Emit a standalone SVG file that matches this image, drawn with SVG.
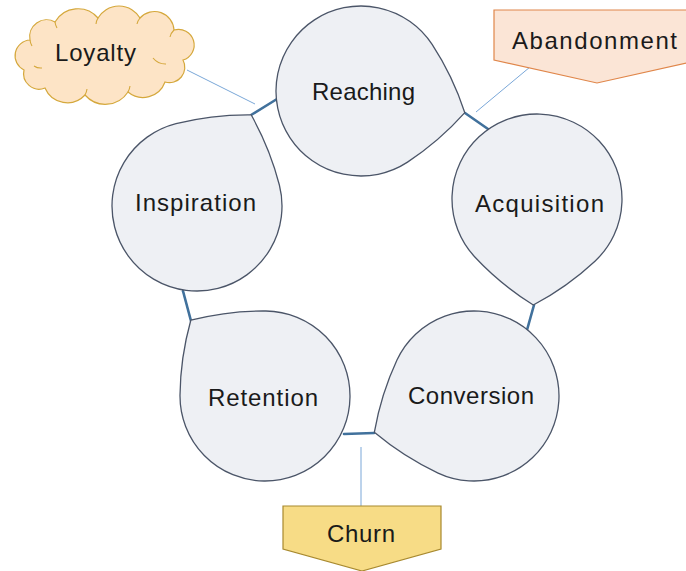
<svg xmlns="http://www.w3.org/2000/svg" width="686" height="571" viewBox="0 0 686 571">
<defs>
<style>
.drop{fill:#eef0f4;stroke:#4b5568;stroke-width:1.3}
.lbl{font-family:"Liberation Sans",Arial,sans-serif;font-size:24px;fill:#1a1a1a;text-anchor:middle}
.link{stroke:#41719c;stroke-width:2.6;fill:none;stroke-linecap:round}
.thin{stroke:#7aa7d8;stroke-width:1;fill:none}
</style>
<path id="tear" d="M -85,0 A 85 85 0 0 1 0,-85 Q 37.5,-85 75,-75 Q 85,-37.5 85,0 A 85 85 0 0 1 0,85 A 85 85 0 0 1 -85,0 Z"/>
</defs>
<rect width="686" height="571" fill="#ffffff"/>

<g id="connectors">
<line class="link" x1="465" y1="113" x2="488" y2="129"/>
<line class="link" x1="534" y1="305" x2="527" y2="330"/>
<line class="link" x1="374" y1="433" x2="344" y2="434"/>
<line class="link" x1="191" y1="321" x2="183" y2="291"/>
<line class="link" x1="251" y1="115" x2="277" y2="99"/>
<line class="thin" x1="187" y1="70" x2="255" y2="104"/>
<line class="thin" x1="530" y1="67" x2="476" y2="112"/>
<line class="thin" x1="361" y1="447" x2="361" y2="506"/>
</g>

<g id="reaching">
<use href="#tear" class="drop" transform="translate(361,91) rotate(56.8)"/>
<text class="lbl" x="363.5" y="100" textLength="103" lengthAdjust="spacing">Reaching</text>
</g>
<g id="acquisition">
<use href="#tear" class="drop" transform="translate(537,199) rotate(137)"/>
<text class="lbl" x="539.5" y="212" textLength="129" lengthAdjust="spacing">Acquisition</text>
</g>
<g id="conversion">
<use href="#tear" class="drop" transform="translate(474,396) rotate(205)"/>
<text class="lbl" x="471" y="404" textLength="126" lengthAdjust="spacing">Conversion</text>
</g>
<g id="retention">
<use href="#tear" class="drop" transform="translate(265,396) rotate(270.6)"/>
<text class="lbl" x="263" y="406" textLength="110" lengthAdjust="spacing">Retention</text>
</g>
<g id="inspiration">
<use href="#tear" class="drop" transform="translate(197,206) rotate(-14.3)"/>
<text class="lbl" x="195.5" y="211" textLength="121" lengthAdjust="spacing">Inspiration</text>
</g>

<g id="loyalty">
<path d="M 24,70 A 15.8 15.8 0 0 1 30,40 A 16.9 16.9 0 0 1 55,22 A 26.5 26.5 0 0 1 98,18 A 24.4 24.4 0 0 1 140,18 A 19.5 19.5 0 0 1 174,30 A 15.5 15.5 0 0 1 183,60 A 15.4 15.4 0 0 1 165,82 A 23.4 23.4 0 0 1 128,92 A 27 27 0 0 1 85,95 A 24.2 24.2 0 0 1 45,88 A 15.6 15.6 0 0 1 24,70 Z" fill="#fde4c6" stroke="#d5a83c" stroke-width="1.2"/>
<path d="M 30,40 A 14 14 0 0 0 32,46 M 55,22 A 16 16 0 0 0 57,28 M 98,18 A 14 14 0 0 0 96,24 M 140,18 A 14 14 0 0 0 137,24 M 174,30 A 14 14 0 0 0 170,37 M 153,58 A 16 16 0 0 0 166,64 M 128,92 A 16 16 0 0 0 130,86 M 85,95 A 16 16 0 0 0 87,89 M 34,66 A 12 12 0 0 0 42,68" fill="none" stroke="#d5a83c" stroke-width="1.1"/>
<text class="lbl" x="95.5" y="61" textLength="81" lengthAdjust="spacing">Loyalty</text>
</g>

<g id="abandonment">
<polygon points="494,10 700,10 700,60 597,83 494,60" fill="#fbe5d6" stroke="#e0864a" stroke-width="1.2"/>
<text class="lbl" x="594.5" y="49" textLength="165" lengthAdjust="spacing">Abandonment</text>
</g>

<g id="churn">
<polygon points="283,506 441,506 441,549 362,571 283,549" fill="#f7dc86" stroke="#a8892e" stroke-width="1.2"/>
<text class="lbl" x="361" y="542" textLength="68" lengthAdjust="spacing">Churn</text>
</g>
</svg>
